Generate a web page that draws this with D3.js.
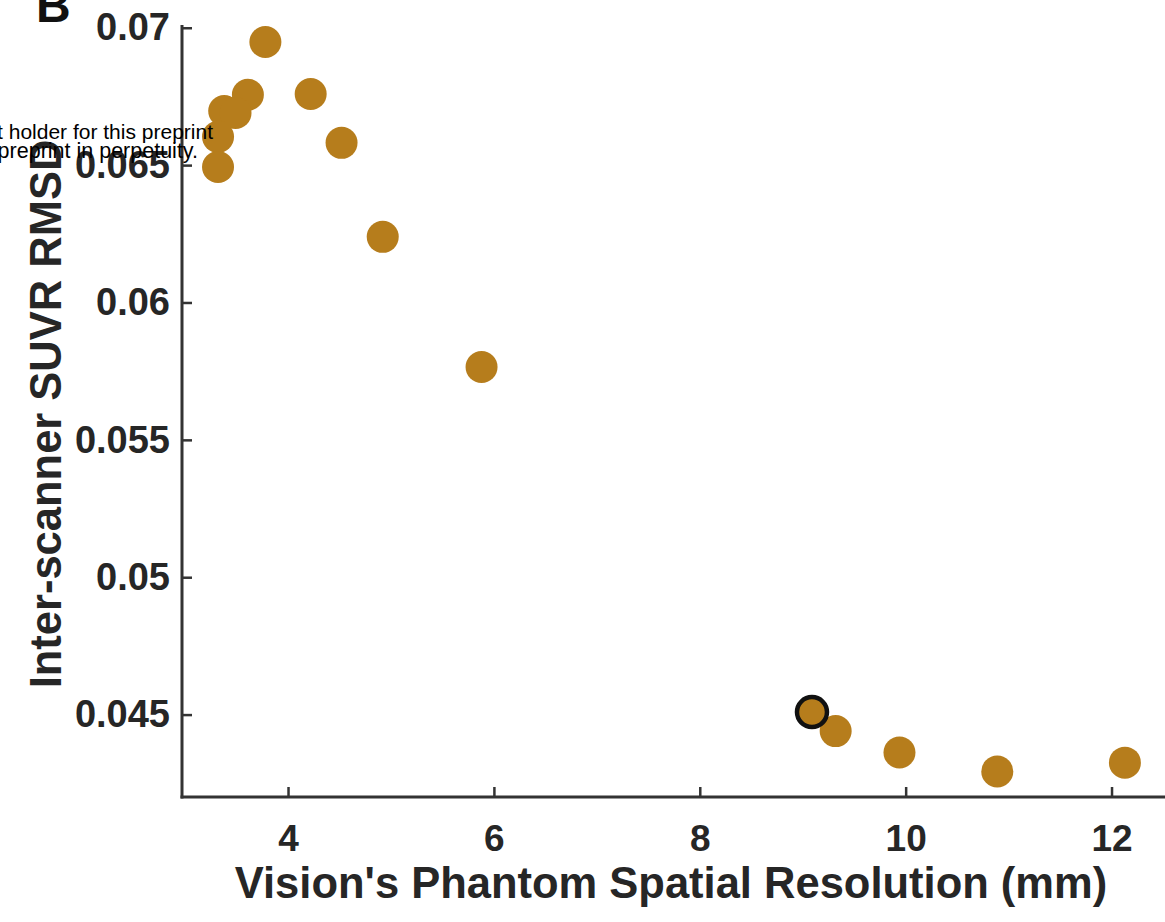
<!DOCTYPE html>
<html>
<head>
<meta charset="utf-8">
<script src="https://cdn.jsdelivr.net/npm/d3@7"></script>
<style>
  html, body { margin: 0; padding: 0; background: #fff; }
  svg { display: block; }
</style>
</head>
<body>
<svg id="chart" width="1165" height="922"></svg>
<script>
// ---- data ----
const resolution = [3.78, 3.61, 3.38, 3.49, 3.32, 3.32, 4.22, 4.52, 4.92, 5.88, 9.09, 9.32, 9.94, 10.89, 12.13];
const rmsd       = [0.06948, 0.06756, 0.06697, 0.06690, 0.06603, 0.06493, 0.06759, 0.06581, 0.06239, 0.05765, 0.04509, 0.04440, 0.04362, 0.04293, 0.04325];
const highlightX = [9.09];
const highlightY = [0.04509];
const xTicks = [4, 6, 8, 10, 12];
const yTicks = [0.045, 0.05, 0.055, 0.06, 0.065, 0.07];
const yTickLabels = ["0.045", "0.05", "0.055", "0.06", "0.065", "0.07"];
const xLabel = "Vision's Phantom Spatial Resolution (mm)";
const yLabel = "Inter-scanner SUVR RMSD";
const panelLetter = "B";
const watermark = ["t holder for this preprint", "preprint in perpetuity."];

const points = resolution.map((v, i) => ({ x: v, y: rmsd[i] }));
const highlight = highlightX.map((v, i) => ({ x: v, y: highlightY[i] }));

// ---- layout ----
const svg = d3.select("#chart");
const pLeft = 182, pRight = 1163, pTop = 25, pBottom = 797;
const x = d3.scaleLinear().domain([2.97, 12.5]).range([pLeft, pRight]);
const y = d3.scaleLinear().domain([0.042, 0.0701]).range([pBottom, pTop]);

const axisColor = "#333333";
const textColor = "#262626";
const dotColor = "#b67d1c";
const font = "'Liberation Sans', Arial, Helvetica, sans-serif";

// points
svg.append("g").selectAll("circle").data(points).join("circle")
  .attr("cx", d => x(d.x)).attr("cy", d => y(d.y)).attr("r", 16)
  .attr("fill", dotColor);

svg.append("g").selectAll("circle").data(highlight).join("circle")
  .attr("cx", d => x(d.x)).attr("cy", d => y(d.y)).attr("r", 15)
  .attr("fill", dotColor).attr("stroke", "#111").attr("stroke-width", 4.5);

// x axis
const xAxis = d3.axisBottom(x).tickValues(xTicks).tickSizeInner(-10).tickSizeOuter(0).tickPadding(28);
const gx = svg.append("g").attr("transform", `translate(0,${pBottom})`).call(xAxis);
gx.select(".domain").attr("stroke", axisColor).attr("stroke-width", 3)
  .attr("d", `M${pLeft - 1.5},0H${pRight + 10}`);
gx.selectAll(".tick line").attr("stroke", axisColor).attr("stroke-width", 2.5);
gx.selectAll(".tick text").attr("fill", textColor)
  .style("font-family", font).style("font-size", "37px").style("font-weight", "bold");

// y axis
const yAxis = d3.axisLeft(y).tickValues(yTicks).tickFormat((d, i) => yTickLabels[i])
  .tickSizeInner(-10).tickSizeOuter(0).tickPadding(12);
const gy = svg.append("g").attr("transform", `translate(${pLeft},0)`).call(yAxis);
gy.select(".domain").attr("stroke", axisColor).attr("stroke-width", 3)
  .attr("d", `M0,${pTop}V${pBottom + 1.5}`);
gy.selectAll(".tick line").attr("stroke", axisColor).attr("stroke-width", 2.5);
gy.selectAll(".tick text").attr("fill", textColor)
  .style("font-family", font).style("font-size", "38px").style("font-weight", "bold");

// axis labels
svg.append("text")
  .attr("x", 671).attr("y", 898)
  .attr("text-anchor", "middle")
  .attr("fill", textColor)
  .style("font-family", font).style("font-size", "43.5px").style("font-weight", "bold")
  .text(xLabel);

svg.append("text")
  .attr("transform", `translate(61,${(pTop + pBottom) / 2 + 3}) rotate(-90)`)
  .attr("text-anchor", "middle")
  .attr("fill", textColor)
  .style("font-family", font).style("font-size", "43.5px").style("font-weight", "bold")
  .text(yLabel);

// panel letter
svg.append("text")
  .attr("x", 36).attr("y", 22)
  .attr("fill", "#111")
  .style("font-family", font).style("font-size", "48px").style("font-weight", "bold")
  .text(panelLetter);

// watermark overlay text
svg.append("g").selectAll("text").data(watermark).join("text")
  .attr("x", (d, i) => i === 0 ? 213 : 198)
  .attr("y", (d, i) => 139 + i * 19)
  .attr("text-anchor", "end")
  .attr("fill", "#000")
  .style("font-family", font).style("font-size", (d, i) => i === 0 ? "21px" : "21.5px")
  .text(d => d);
</script>
</body>
</html>
